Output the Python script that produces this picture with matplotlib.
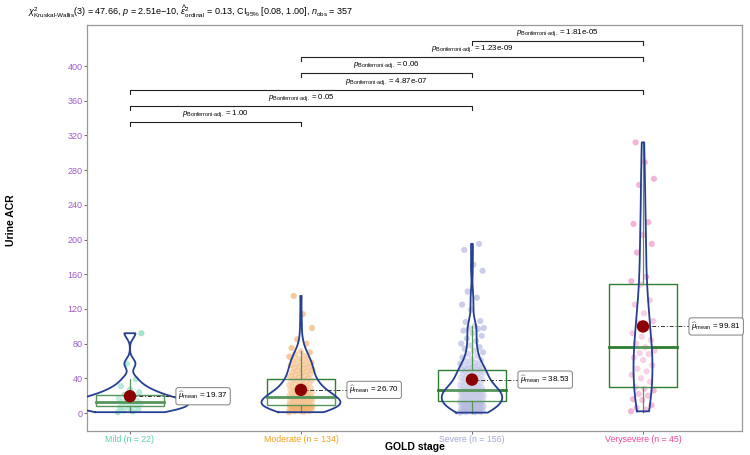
import numpy as np
import matplotlib
matplotlib.use("Agg")
import matplotlib.pyplot as plt
from matplotlib.patches import Rectangle

plt.rcParams['font.family'] = ['Liberation Sans', 'DejaVu Sans']
plt.rcParams['mathtext.fontset'] = 'custom'
plt.rcParams['mathtext.rm'] = 'Liberation Sans'
plt.rcParams['mathtext.it'] = 'Liberation Sans:italic'
plt.rcParams['mathtext.bf'] = 'Liberation Sans:bold'

# ---------------- data ----------------
categories = ["Mild", "Moderate", "Severe", "Verysevere"]
counts = [22, 134, 156, 45]

mild = [1, 2, 3, 4, 6, 7, 9, 10, 11, 12, 13, 14, 15, 17, 19, 21, 24, 27, 31,
        39, 57, 92]

moderate = [1, 1.5, 2, 2.2, 2.5, 3, 3.1, 3.6, 4, 4.2, 4.5, 5, 5.1, 5.3, 5.6,
            6, 6.1, 6.2, 6.6, 7, 7.1, 7.3, 7.5, 7.7, 8, 8.1, 8.3, 8.5, 8.6,
            8.7, 9, 9.1, 9.2,
            9.5, 10, 10.2, 10.6, 11, 11.2, 11.5, 12, 12.3, 12.5, 13, 13.2,
            13.6, 14, 14.1, 14.5, 15, 15.2, 15.6, 16, 16.1, 16.5, 17, 17.2,
            17.5, 18, 18.1, 18.5, 18.7, 19, 19.1, 19.2, 19.3, 19.4,
            20, 20.5, 21, 21.4, 22, 22.6, 23, 23.5, 24, 24.4, 25, 25.5, 26,
            26.6, 27, 28, 28.5, 29, 29.4, 30, 31, 31.5, 32, 33, 33.6, 34, 35,
            35.5, 36, 37, 37.4, 38, 39,
            40, 41, 42, 43, 44, 45, 46, 47, 48, 49, 50, 51, 52, 53, 54, 55,
            56, 57, 58, 60, 61, 62, 63, 65, 66, 68, 70, 71,
            75, 80, 85, 98, 114, 135]

severe = [0.5, 1, 1.2, 1.5, 2, 2.2, 2.5, 3, 3.2, 3.5, 4, 4.2, 4.5, 5, 5.2,
          5.5, 6, 6.5, 7, 7.2, 7.5, 8, 8.2, 8.5, 9, 9.5, 10, 10.2, 10.5, 11,
          11.2, 11.5, 12, 12.2, 12.5, 13, 13.2, 13.5, 14,
          14.5, 15, 15.2, 15.5, 16, 16.2, 16.5, 17, 17.2, 17.5, 18, 18.2,
          18.5, 19, 19.2, 19.5, 20, 20.2, 20.5, 21, 21.2, 21.5, 22, 22.2,
          22.5, 23, 23.2, 23.5, 24, 24.2, 24.5, 25, 25.2, 25.5, 25.6, 26,
          26.1, 26.2, 26.3,
          26.5, 27, 27.5, 28, 28.5, 29, 29.5, 30, 31, 31.5, 32, 32.5, 33, 34,
          34.5, 35, 36, 36.5, 37, 38, 38.5, 39, 40, 40.5, 41, 42, 43, 43.5,
          44, 45, 45.5, 46, 47, 47.5, 48, 48.5, 49, 49.5, 50,
          51, 52, 53, 54, 55, 56, 57, 58, 60, 61, 62, 64, 66, 68, 70, 72, 74,
          76, 78, 80, 83, 86, 89, 92, 95, 97, 97.5, 98, 100,
          105, 106, 119, 125, 133, 140, 164, 171, 188, 195]

verysevere = [2, 4, 6, 9, 15, 16, 20, 22, 26, 28, 30,
              36, 40, 44, 48, 51, 55, 61, 64, 68, 69, 72,
              76,
              80, 84, 88, 92, 98, 104, 106, 115, 125, 130,
              148, 152, 157, 185, 195, 205, 218, 220, 263, 270, 289, 312]

groups = [mild, moderate, severe, verysevere]

means = [19.37, 26.70, 38.53, 99.81]
box_q1 = [8, 9, 14, 30]
box_med = [13, 19, 26, 76]
box_q3 = [21, 39, 50, 149]
whisk_lo = [1, 1, 0.5, 1.5]
whisk_hi = [39, 71, 100, 312]

pairs = [(0, 1), (0, 2), (0, 3), (1, 2), (1, 3), (2, 3)]
pvals = ["1.00", "0.05", "4.87e-07", "0.06", "1.23e-09", "1.81e-05"]

yticks = list(range(0, 401, 40))

point_colors = ["#5ccfa8", "#f0a04b", "#a3a9d8", "#ec7ab8"]
label_colors = ["#5ccfa8", "#f2a11f", "#a0a8d4", "#e8499c"]
tick_purple = "#9b5cc8"
violin_col = "#263f91"
box_col = "#2e7d32"

# ---------------- figure ----------------
fig = plt.figure(figsize=(7.5, 4.55), dpi=100)
ax = fig.add_axes([87 / 750, 1 - 431 / 455, (742 - 87) / 750, (431 - 25) / 455])
xs = np.arange(1, len(categories) + 1)


def kde(vals):
    v = np.asarray(vals, float)
    n = len(v)
    sd = v.std(ddof=1)
    q75, q25 = np.percentile(v, [75, 25])
    bw = 0.9 * min(sd, (q75 - q25) / 1.34) * n ** -0.2
    grid = np.linspace(v.min(), v.max(), 512)
    d = np.exp(-0.5 * ((grid[:, None] - v[None, :]) / bw) ** 2).sum(1) / (n * bw * np.sqrt(2 * np.pi))
    return grid, d


kdes = [kde(g) for g in groups]
dmax = max(d.max() for _, d in kdes)
VW = 0.68

# points
for i, g in enumerate(groups):
    n = len(g)
    jit = ((np.arange(n) * 0.6180339887) % 1.0 - 0.5) * 0.14
    ax.scatter(xs[i] + jit, g, s=20, color=point_colors[i], alpha=0.55,
               edgecolors='none', zorder=2)

# boxes
for i in range(len(categories)):
    x = xs[i]
    ax.add_patch(Rectangle((x - 0.2, box_q1[i]), 0.4, box_q3[i] - box_q1[i],
                           facecolor='white', alpha=0.25, edgecolor='none', zorder=3))
    ax.add_patch(Rectangle((x - 0.2, box_q1[i]), 0.4, box_q3[i] - box_q1[i],
                           facecolor='none', edgecolor=box_col, lw=1.0, zorder=3.1))
    ax.plot([x - 0.2, x + 0.2], [box_med[i], box_med[i]], color=box_col, lw=2.0, zorder=3.2)
    ax.plot([x, x], [box_q3[i], whisk_hi[i]], color=box_col, lw=0.9, zorder=3.1)
    ax.plot([x, x], [box_q1[i], whisk_lo[i]], color=box_col, lw=0.9, zorder=3.1)

# violins
for i, (grid, d) in enumerate(kdes):
    x = xs[i]
    half = d / dmax * VW / 2
    ax.fill_betweenx(grid, x - half, x + half, facecolor='white', alpha=0.2,
                     edgecolor='none', zorder=4)
    px = np.concatenate([x - half, (x + half)[::-1], [x - half[0]]])
    py = np.concatenate([grid, grid[::-1], [grid[0]]])
    ax.plot(px, py, color=violin_col, lw=1.3, zorder=4.1)

# means
for i in range(len(categories)):
    x = xs[i]
    ax.plot([x, x + 0.27], [means[i], means[i]], color='#333333', lw=0.7,
            ls=(0, (4, 2, 1, 2)), zorder=5)
    ax.scatter([x], [means[i]], s=80, color='#8b0000', zorder=6, edgecolors='none')
    ax.text(x + 0.283, means[i], r"$\widehat{\mu}_{\mathrm{mean}}$ = %.2f" % means[i],
            ha='left', va='center', fontsize=5.8, zorder=7,
            bbox=dict(boxstyle='round,pad=0.3', fc='white', ec='#808080', lw=0.7))

# significance brackets
for k, ((a, b), p) in enumerate(zip(pairs, pvals)):
    y = 335.4 + k * 18.7
    ax.plot([xs[a], xs[a], xs[b], xs[b]], [y - 4.5, y, y, y - 4.5],
            color='#222222', lw=0.8, zorder=5)
    ax.text((xs[a] + xs[b]) / 2, y + 3.5,
            r"$p_{\text{Bonferroni-adj.}}$ = " + p,
            ha='center', va='bottom', fontsize=5.7)

ax.set_xlim(0.749, 4.579)
ax.set_ylim(-20.7, 447.3)
ax.set_xticks(xs)
ax.set_xticklabels([f"{c} (n = {n})" for c, n in zip(categories, counts)],
                   fontsize=6.3)
for lab, col in zip(ax.get_xticklabels(), label_colors):
    lab.set_color(col)
ax.set_yticks(yticks)
ax.set_yticklabels([str(t) for t in yticks], fontsize=6.5, color=tick_purple)
ax.tick_params(axis='both', length=2.5, width=0.6, color='#555555', pad=0.8)
ax.tick_params(axis='x', pad=0.2)
for s in ax.spines.values():
    s.set_color('#999999')
    s.set_linewidth(0.9)

ax.set_xlabel("GOLD stage", fontsize=7.5, fontweight='bold')
ax.xaxis.set_label_coords(0.5, -0.026)
ax.set_ylabel("Urine ACR", fontsize=7.5, fontweight='bold')
ax.yaxis.set_label_coords(-0.108, 0.52)

fig.text(28 / 750, 1 - 12 / 455,
         r"$\chi^2_{\text{Kruskal-Wallis}}$(3) = 47.66, $p$ = 2.51e−10, "
         r"$\widehat{\epsilon}^2_{\mathrm{ordinal}}$ = 0.13, CI$_{95\%}$ [0.08, 1.00], "
         r"$n_{\mathrm{obs}}$ = 357",
         ha='left', va='center', fontsize=6.5)

fig.savefig("out.png", dpi=100)
